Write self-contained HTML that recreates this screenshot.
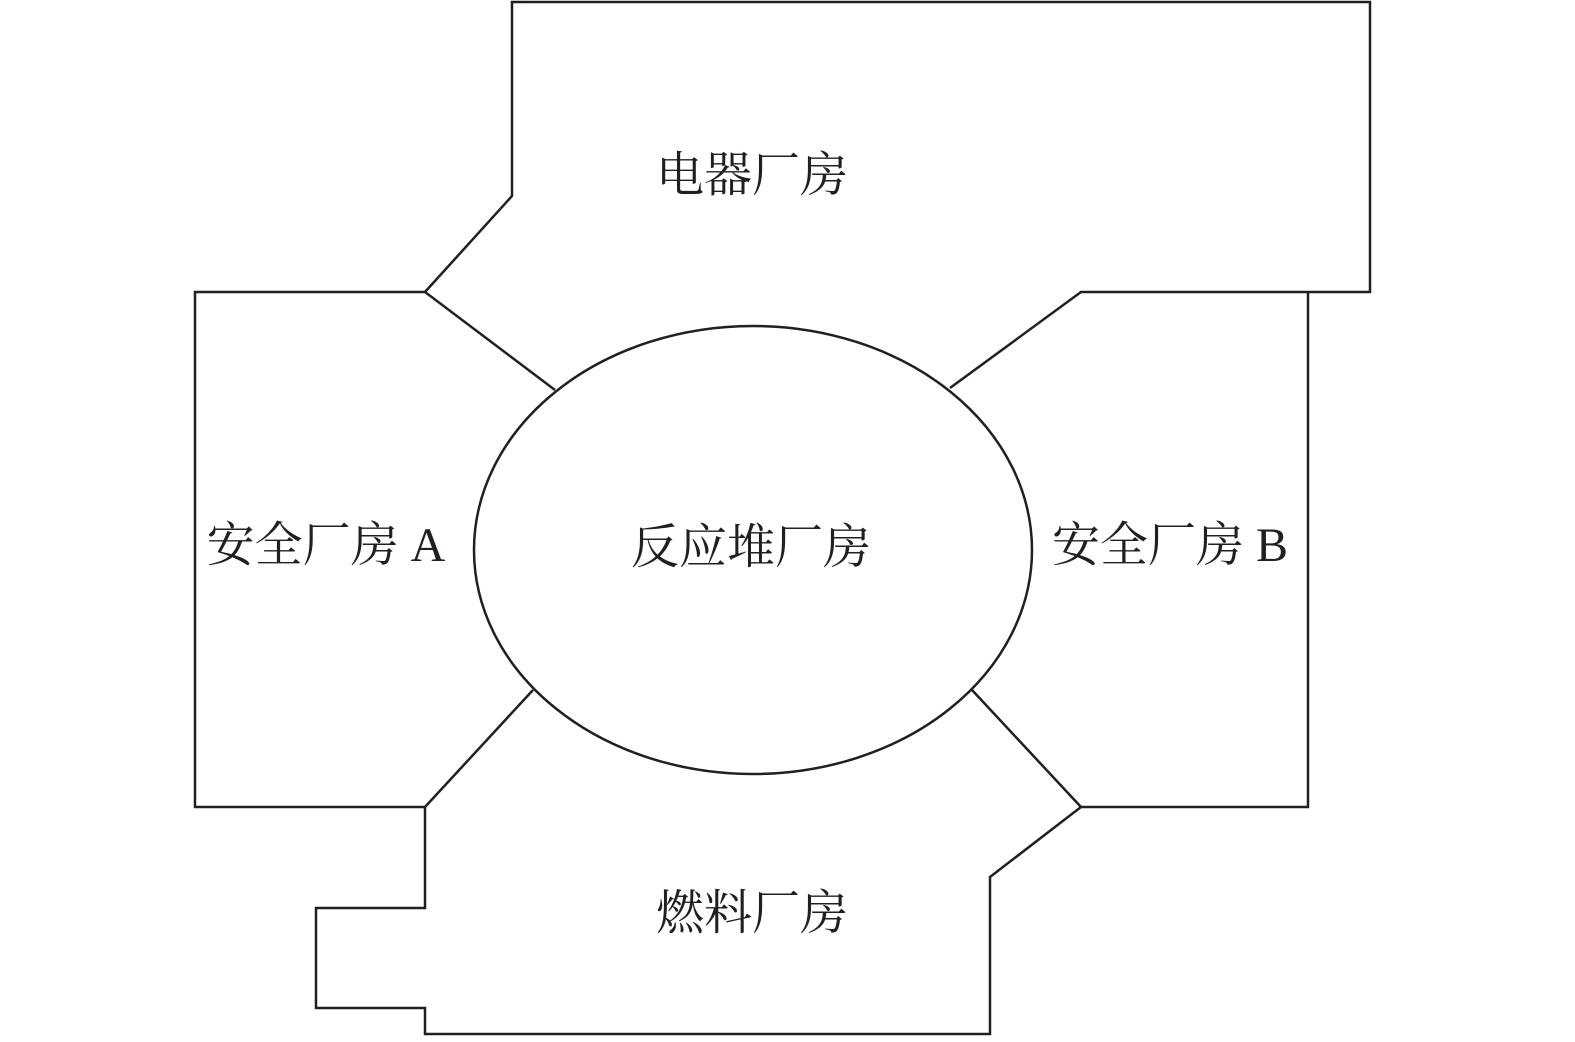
<!DOCTYPE html>
<html><head><meta charset="utf-8"><style>
html,body{margin:0;padding:0;background:#fff;width:1575px;height:1042px;overflow:hidden}
</style></head><body>
<svg width="1575" height="1042" viewBox="0 0 1575 1042" xmlns="http://www.w3.org/2000/svg">
<g fill="none" stroke="#231f20" stroke-width="2.5" stroke-linejoin="miter">
<polyline points="555,390 425,292 512,196 512,2 1370,2 1370,292 1081,292 950,388"/>
<polyline points="425,292 195,292 195,807 425,807 533,690"/>
<polyline points="1308,292 1308,807 1081,807"/>
<polyline points="972,690 1081,807 990,877 990,1034 425,1034 425,1008 316,1008 316,908 425,908 425,807"/>
<ellipse cx="753" cy="550" rx="279" ry="224"/>
</g>
<g font-family="'Liberation Serif','Noto Serif CJK SC',serif" font-size="48" fill="#231f20" text-anchor="middle">
<text x="752" y="191">电器厂房</text>
<text x="751" y="563">反应堆厂房</text>
<text x="326" y="561">安全厂房 A</text>
<text x="1170" y="561">安全厂房 B</text>
<text x="752" y="929">燃料厂房</text>
</g>
</svg>
</body></html>
